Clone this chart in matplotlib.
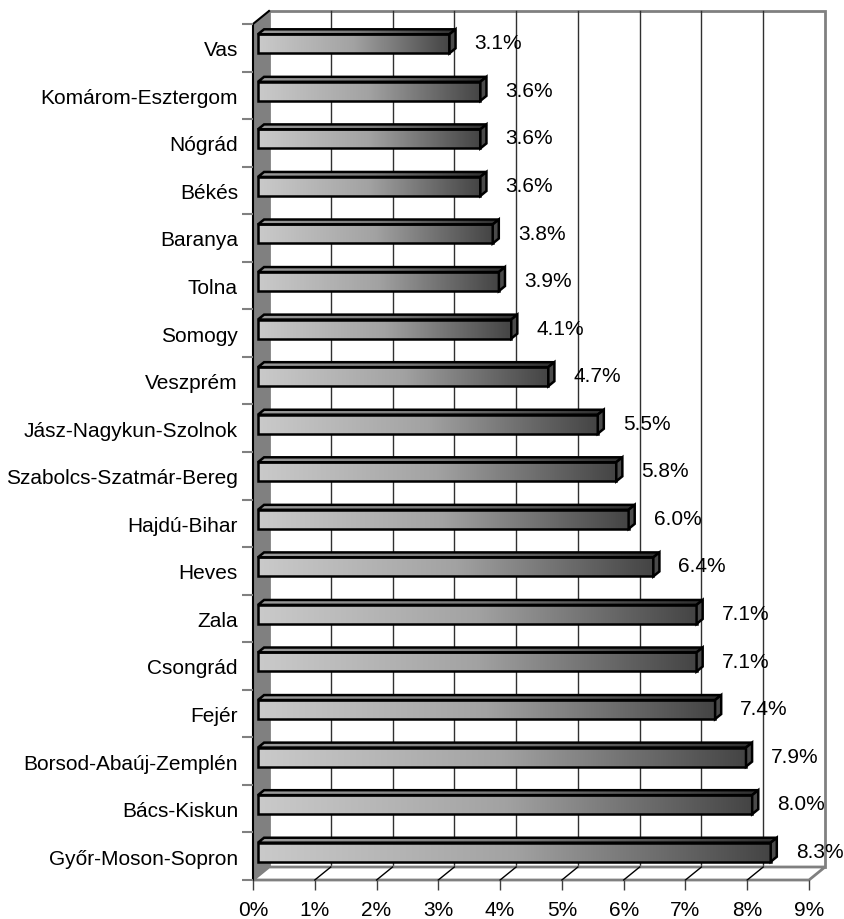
import numpy as np
import matplotlib
matplotlib.use('Agg')
import matplotlib.pyplot as plt
from matplotlib.patches import Polygon
from matplotlib.transforms import IdentityTransform
from matplotlib.colors import LinearSegmentedColormap

counties = ['Vas', 'Komárom-Esztergom', 'Nógrád', 'Békés', 'Baranya', 'Tolna',
            'Somogy', 'Veszprém', 'Jász-Nagykun-Szolnok', 'Szabolcs-Szatmár-Bereg',
            'Hajdú-Bihar', 'Heves', 'Zala', 'Csongrád', 'Fejér',
            'Borsod-Abaúj-Zemplén', 'Bács-Kiskun', 'Győr-Moson-Sopron']
shares = [3.1, 3.6, 3.6, 3.6, 3.8, 3.9, 4.1, 4.7, 5.5, 5.8,
          6.0, 6.4, 7.1, 7.1, 7.4, 7.9, 8.0, 8.3]
x_ticks = list(range(10))
x_labels = ['{}%'.format(k) for k in x_ticks]

plt.rcParams['font.family'] = ['Liberation Sans', 'DejaVu Sans']
FS = 15
DEPTH = (16, 13)   # pixel shift of the back plane
Z_FRONT, Z_BACK = 0.31, 0.69  # bar depth
H = 0.40

fig = plt.figure(figsize=(8.44, 9.2), dpi=100)
ax = fig.add_axes([253 / 844, 1 - 881 / 920, 556 / 844, 856 / 920])
n = len(counties)
ax.set_xlim(0, x_ticks[-1])
ax.set_ylim(n - 0.5, -0.5)
ax.set_autoscale_on(False)
for s in ax.spines.values():
    s.set_visible(False)
ax.patch.set_visible(False)

ax.set_yticks(range(n), counties, fontsize=FS)
ax.set_yticks(np.arange(-0.5, n), minor=True)
ax.tick_params(axis='y', which='major', length=0, pad=10.8)
ax.tick_params(axis='y', which='minor', length=7.9, width=1.5, color='#808080')
ax.set_xticks(x_ticks, x_labels, fontsize=FS)
ax.tick_params(axis='x', length=7.5, width=1, color='#404040', pad=7)


def to_disp(x, y, z):
    p = ax.transData.transform((x, y))
    return (p[0] + DEPTH[0] * z, p[1] + DEPTH[1] * z)


def face(verts, fc='none', ec='black', lw=1.0, zorder=1):
    poly = Polygon(verts, closed=True, transform=IdentityTransform(),
                   facecolor=fc, edgecolor=ec, lw=lw, zorder=zorder, clip_on=False,
                   joinstyle='miter')
    ax.add_patch(poly)
    return poly


def grad_face(verts, cmap, zorder):
    poly = face(verts, fc='none', ec='black', lw=1.8, zorder=zorder + 0.1)
    xs = [v[0] for v in verts]
    ys = [v[1] for v in verts]
    grad = np.linspace(0, 1, 256).reshape(1, -1)
    im = ax.imshow(grad, extent=[min(xs), max(xs), min(ys), max(ys)], cmap=cmap,
                   aspect='auto', transform=IdentityTransform(), zorder=zorder,
                   interpolation='bilinear')
    im.set_clip_path(poly)
    return poly


top = -0.5
bot = n - 0.5
xmax = x_ticks[-1]

# back wall
face([to_disp(0, bot, 1), to_disp(0, top, 1), to_disp(xmax, top, 1), to_disp(xmax, bot, 1)],
     fc='white', ec='#808080', lw=2, zorder=0.5)
for k in x_ticks[1:-1]:
    ax.plot(*zip(to_disp(k, top, 1), to_disp(k, bot, 1)), transform=IdentityTransform(),
            color='#303030', lw=1, zorder=0.6, clip_on=False)

# floor
face([to_disp(0, bot, 0), to_disp(xmax, bot, 0), to_disp(xmax, bot, 1), to_disp(0, bot, 1)],
     fc='white', ec='#808080', lw=2, zorder=0.7)
for k in x_ticks[1:-1]:
    ax.plot(*zip(to_disp(k, bot, 0), to_disp(k, bot, 1)), transform=IdentityTransform(),
            color='black', lw=1, zorder=0.8, clip_on=False)

# left wall
face([to_disp(0, bot, 0), to_disp(0, top, 0), to_disp(0, top, 1), to_disp(0, bot, 1)],
     fc='#808080', ec='none', zorder=0.9)
ax.plot(*zip(to_disp(0, bot, 0), to_disp(0, top, 0), to_disp(0, top, 1)),
        transform=IdentityTransform(), color='black', lw=1.5, zorder=1, clip_on=False)

front_cmap = LinearSegmentedColormap.from_list('front', ['#cacaca', '#a2a2a2', '#444444'])
top_cmap = LinearSegmentedColormap.from_list('top', ['#9c9c9c', '#7a7a7a', '#303030'])

for i, v in enumerate(shares):
    y0, y1 = i - H / 2, i + H / 2
    grad_face([to_disp(0, y1, Z_FRONT), to_disp(v, y1, Z_FRONT),
               to_disp(v, y0, Z_FRONT), to_disp(0, y0, Z_FRONT)], front_cmap, 3)
    grad_face([to_disp(0, y0, Z_FRONT), to_disp(v, y0, Z_FRONT),
               to_disp(v, y0, Z_BACK), to_disp(0, y0, Z_BACK)], top_cmap, 3)
    face([to_disp(v, y1, Z_FRONT), to_disp(v, y0, Z_FRONT),
          to_disp(v, y0, Z_BACK), to_disp(v, y1, Z_BACK)],
         fc='#4a4a4a', ec='black', lw=1.8, zorder=3.2)
    ax.annotate('{:.1f}%'.format(v), xy=(v, i), xytext=(30, 5), textcoords='offset pixels',
                ha='left', va='center', fontsize=FS, zorder=5)

fig.savefig('out.png', dpi=100)
